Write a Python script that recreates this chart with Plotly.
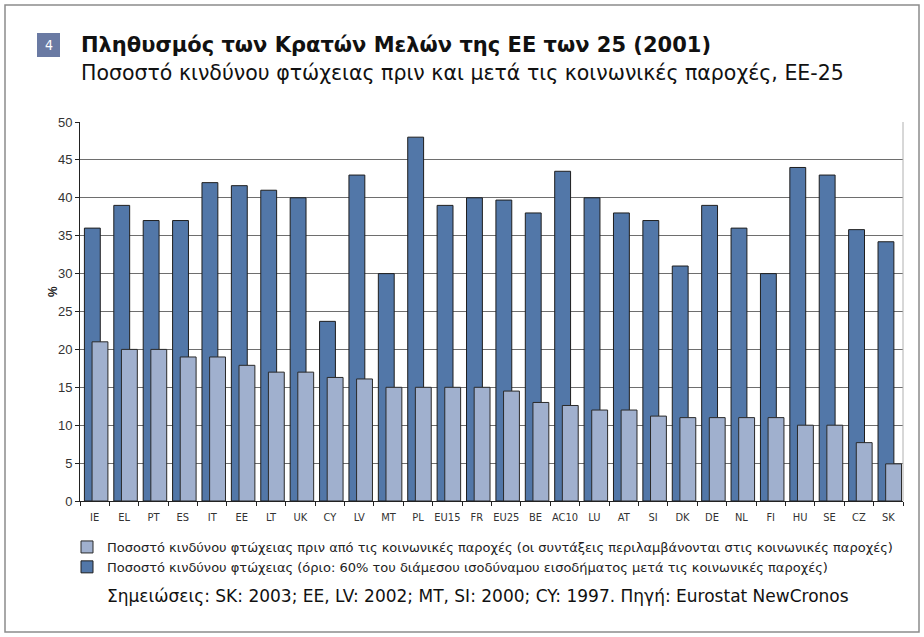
import plotly.graph_objects as go

categories = ["IE", "EL", "PT", "ES", "IT", "EE", "LT", "UK", "CY", "LV", "MT", "PL", "EU15", "FR",
              "EU25", "BE", "AC10", "LU", "AT", "SI", "DK", "DE", "NL", "FI", "HU", "SE", "CZ", "SK"]
before_transfers = [36, 39, 37, 37, 42, 41.6, 41, 40, 23.7, 43, 30, 48, 39, 40,
                    39.7, 38, 43.5, 40, 38, 37, 31, 39, 36, 30, 44, 43, 35.8, 34.2]
after_transfers = [21, 20, 20, 19, 19, 17.9, 17, 17, 16.3, 16.1, 15, 15, 15, 15,
                   14.5, 13, 12.6, 12, 12, 11.2, 11, 11, 11, 11, 10, 10, 7.7, 4.9]
y_ticks = [0, 5, 10, 15, 20, 25, 30, 35, 40, 45, 50]

name_light = "Ποσοστό κινδύνου φτώχειας πριν από τις κοινωνικές παροχές (οι συντάξεις περιλαμβάνονται στις κοινωνικές παροχές)"
name_dark = "Ποσοστό κινδύνου φτώχειας (όριο: 60% του διάμεσου ισοδύναμου εισοδήματος μετά τις κοινωνικές παροχές)"

W, H = 924, 637
L, R, T, B = 80, 21, 122, 136
pw, ph = W - L - R, H - T - B


def px(x):
    return (x - L) / pw


def py(y):
    return (H - B - y) / ph


fig = go.Figure()
fig.add_trace(go.Bar(
    x=categories, y=before_transfers, name=name_dark,
    marker=dict(color="#5277A8", line=dict(color="#1e1e1e", width=1)),
    offset=-0.35, width=0.54,
))
fig.add_trace(go.Bar(
    x=categories, y=after_transfers, name=name_light,
    marker=dict(color="#A0B0CE", line=dict(color="#2a2a2a", width=1)),
    offset=-0.09, width=0.54,
))

fig.update_layout(
    width=W, height=H,
    margin=dict(l=L, r=R, t=T, b=B),
    paper_bgcolor="white", plot_bgcolor="white",
    barmode="overlay",
    font=dict(family="DejaVu Sans", color="#222"),
    showlegend=True,
    legend=dict(
        x=px(67), y=py(532), xanchor="left", yanchor="top",
        traceorder="reversed", orientation="v",
        font=dict(family="DejaVu Sans", size=13, color="#222"),
        bgcolor="rgba(0,0,0,0)", itemclick=False,
    ),
    xaxis=dict(
        type="category", tickson="boundaries", ticks="outside", ticklen=4,
        tickcolor="#222", showline=True, linecolor="#222", linewidth=1,
        showgrid=False, range=[-0.5, len(categories) - 0.5], tickangle=0,
        ticklabelstandoff=6,
        tickfont=dict(family="Liberation Sans Narrow, DejaVu Sans Condensed", size=11, color="#333"),
    ),
    yaxis=dict(
        range=[0, 50], tickvals=y_ticks, ticks="outside", ticklen=4, tickcolor="#222",
        showline=True, linecolor="#222", linewidth=1,
        showgrid=True, gridcolor="#6e6e6e", gridwidth=1, zeroline=False,
        tickfont=dict(family="Liberation Sans, Arial", size=13, color="#333"),
    ),
    shapes=[
        dict(type="rect", xref="paper", yref="paper",
             x0=px(5), x1=px(919), y0=py(632), y1=py(5),
             line=dict(color="#8c8c8c", width=1.5), layer="below"),
        dict(type="line", xref="paper", yref="paper",
             x0=1, x1=1, y0=0, y1=1, line=dict(color="#b0b0b0", width=1)),
        dict(type="rect", xref="paper", yref="paper",
             x0=px(37), x1=px(60), y0=py(57), y1=py(33),
             fillcolor="#6A7AA3", line=dict(width=0)),
    ],
    annotations=[
        dict(text="4", xref="paper", yref="paper", x=px(48.5), y=py(45),
             xanchor="center", yanchor="middle", showarrow=False,
             font=dict(family="DejaVu Sans Condensed, DejaVu Sans", size=14, color="white")),
        dict(text="<b>Πληθυσμός των Κρατών Μελών της ΕΕ των 25 (2001)</b>",
             xref="paper", yref="paper", x=px(79), y=py(45),
             xanchor="left", yanchor="middle", showarrow=False,
             font=dict(family="DejaVu Sans", size=21, color="#111")),
        dict(text="Ποσοστό κινδύνου φτώχειας πριν και μετά τις κοινωνικές παροχές, ΕΕ-25",
             xref="paper", yref="paper", x=px(79), y=py(73),
             xanchor="left", yanchor="middle", showarrow=False,
             font=dict(family="DejaVu Sans", size=20.5, color="#111")),
        dict(text="<b>%</b>", xref="paper", yref="paper", x=px(53), y=py(292),
             xanchor="center", yanchor="middle", showarrow=False, textangle=-90,
             font=dict(family="Liberation Sans, Arial", size=12, color="#222")),
        dict(text="Σημειώσεις: SK: 2003; EE, LV: 2002; MT, SI: 2000; CY: 1997. Πηγή: Eurostat NewCronos",
             xref="paper", yref="paper", x=px(478), y=py(596),
             xanchor="center", yanchor="middle", showarrow=False,
             font=dict(family="DejaVu Sans", size=17, color="#111")),
    ],
)

fig.write_html("out.html", config={"displayModeBar": False},
               post_script="document.body.style.margin='0';document.body.style.padding='0';")
